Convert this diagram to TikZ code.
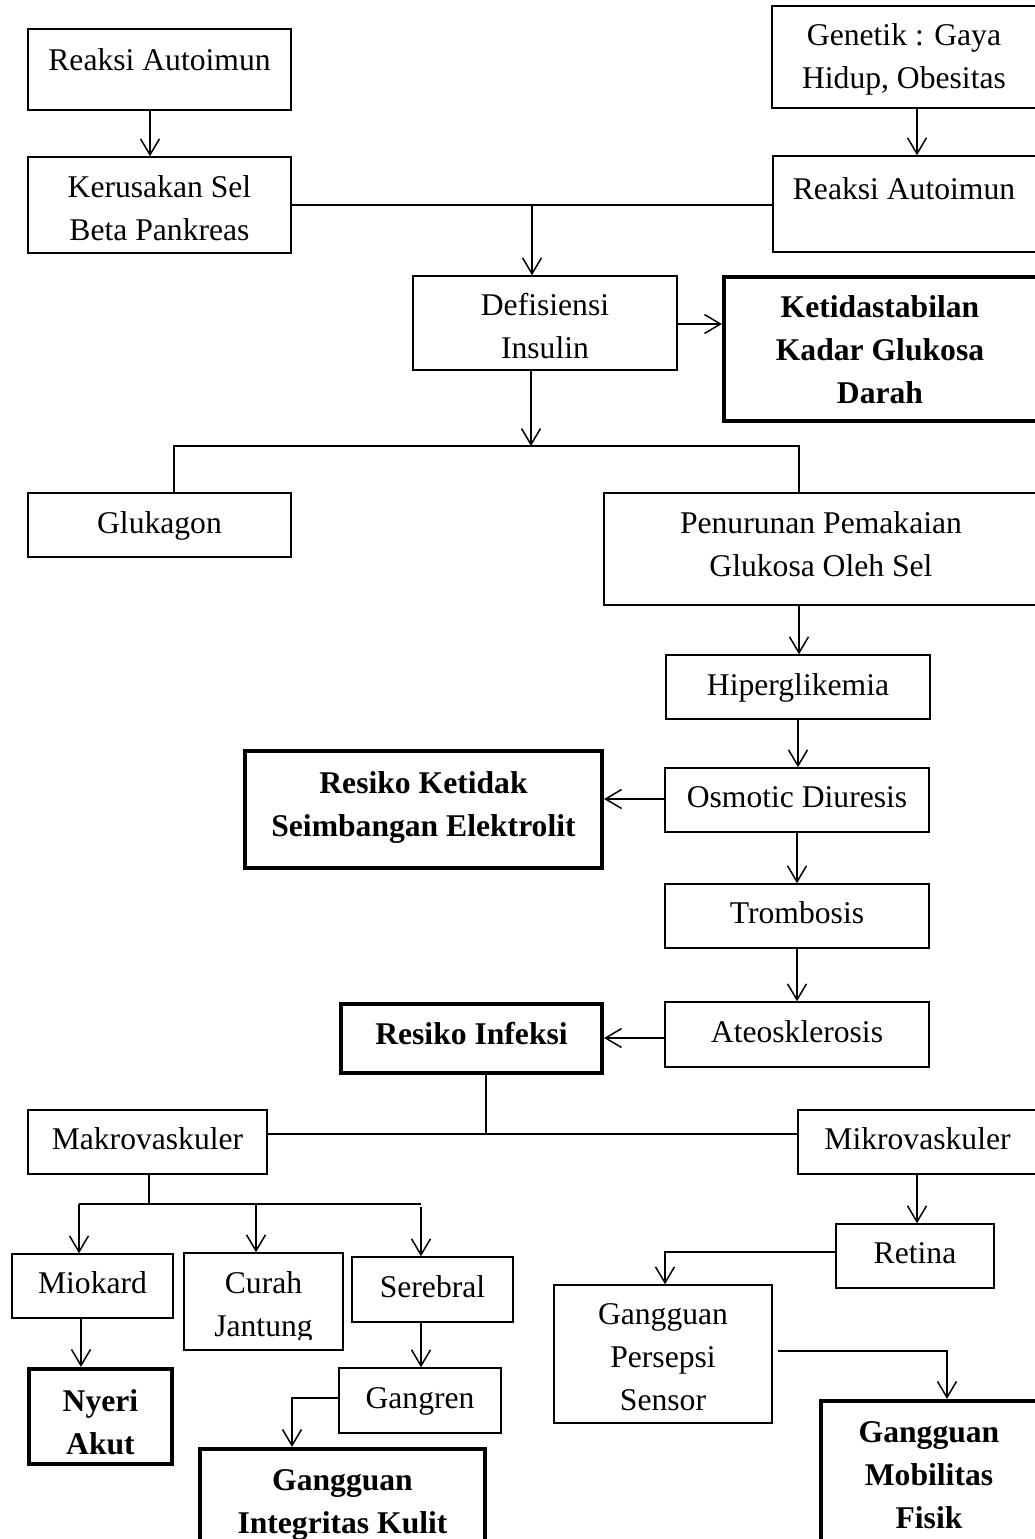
\documentclass[tikz,border=0pt]{standalone}
\usepackage{fontspec}
\setmainfont{Liberation Serif}
\usetikzlibrary{arrows.meta,fit}
\begin{document}
\begin{tikzpicture}[x=0.02cm,y=-0.02cm,
  box/.style={draw, line width=0.85pt, inner sep=0pt},
  tbox/.style={draw, line width=2.4pt, inner sep=0pt},
  txt/.style={inner sep=0pt, align=center, font=\fontsize{18}{24.4}\selectfont},
  txtb/.style={inner sep=0pt, align=center, font=\fontsize{18}{24.4}\selectfont\bfseries},
  ln/.style={line width=0.85pt},
  arr/.style={ln, -{Straight Barb[length=0.32cm,width=0.38cm]}}]
\useasboundingbox (0,0) rectangle (1035,1539);
\clip (0,0) rectangle (1035,1539);

% ---------- boxes ----------
\node[box, fit={(28,29)(291,110)}] (ra1) {};
\node[txt] (ra1t) at (159.5,62) {\strut Reaksi Autoimun};
\node[box, fit={(28,157)(291,253)}] (ks) {};
\node[txt] (kst) at (159.5,210) {\strut Kerusakan Sel\\ Beta Pankreas\strut};
\node[box, fit={(772,6)(1036,108)}] (gen) {};
\node[txt] (gent) at (904,58) {\strut Genetik : Gaya\\ Hidup, Obesitas\strut};
\node[box, fit={(773,156)(1036,252)}] (ra2) {};
\node[txt] (ra2t) at (904,191) {\strut Reaksi Autoimun};
\node[box, fit={(413,276)(677,370)}] (def) {};
\node[txt] (deft) at (545,328) {\strut Defisiensi\\ Insulin\strut};
\node[tbox, fit={(724,277)(1040,421)}] (ket) {};
\node[txtb] (kett) at (880,352) {\strut Ketidastabilan\\ Kadar Glukosa\\ Darah\strut};
\node[box, fit={(28,493)(291,557)}] (glu) {};
\node[txt] (glut) at (159.5,525) {\strut Glukagon};
\node[box, fit={(604,493)(1040,605)}] (pen) {};
\node[txt] (pent) at (821,546) {\strut Penurunan Pemakaian\\ Glukosa Oleh Sel\strut};
\node[box, fit={(666,655)(930,719)}] (hip) {};
\node[txt] (hipt) at (798,687) {\strut Hiperglikemia};
\node[box, fit={(665,768)(929,832)}] (osm) {};
\node[txt] (osmt) at (797,799) {\strut Osmotic Diuresis};
\node[tbox, fit={(245,751)(602,868)}] (rke) {};
\node[txtb] (rket) at (423.5,806) {\strut Resiko Ketidak\\ Seimbangan Elektrolit\strut};
\node[box, fit={(665,884)(929,948)}] (tro) {};
\node[txt] (trot) at (797,915) {\strut Trombosis};
\node[box, fit={(665,1002)(929,1067)}] (ate) {};
\node[txt] (atet) at (797,1034) {\strut Ateosklerosis};
\node[tbox, fit={(341,1004)(602,1073)}] (rin) {};
\node[txtb] (rint) at (471.5,1036) {\strut Resiko Infeksi};
\node[box, fit={(28,1110)(267,1174)}] (mak) {};
\node[txt] (makt) at (147.5,1141) {\strut Makrovaskuler};
\node[box, fit={(798,1110)(1037,1174)}] (mik) {};
\node[txt] (mikt) at (917.5,1141) {\strut Mikrovaskuler};
\node[box, fit={(12,1254)(173,1318)}] (mio) {};
\node[txt] (miot) at (92.5,1285) {\strut Miokard};
\node[box, fit={(184,1253)(343,1350)}] (cur) {};
\begin{scope}
  \clip (184,1250) rectangle (343,1339);
  \node[txt] (curt) at (263.5,1306) {\strut Curah\\ Jantung\strut};
\end{scope}
\node[box, fit={(352,1257)(513,1322)}] (ser) {};
\node[txt] (sert) at (432.5,1289) {\strut Serebral};
\node[box, fit={(339,1368)(501,1433)}] (gan) {};
\node[txt] (gant) at (420,1400) {\strut Gangren};
\node[tbox, fit={(29,1369)(172,1464)}] (nye) {};
\node[txtb] (nyet) at (100.5,1424) {\strut Nyeri\\ Akut\strut};
\node[tbox, fit={(200,1449)(485,1580)}] (int) {};
\node[txtb] (intt) at (342.5,1503) {\strut Gangguan\\ Integritas Kulit\strut};
\node[box, fit={(836,1224)(994,1288)}] (ret) {};
\node[txt] (rett) at (915,1255) {\strut Retina};
\node[box, fit={(554,1285)(772,1423)}] (per) {};
\node[txt] (pert) at (663,1359) {\strut Gangguan\\ Persepsi\\ Sensor\strut};
\node[tbox, fit={(821,1401)(1040,1580)}] (mob) {};
\node[txtb] (mobt) at (929,1477) {\strut Gangguan\\ Mobilitas\\ Fisik\strut};

% ---------- connectors ----------
\draw[arr] (150,0 |- ra1.south) -- (150,0 |- ks.north);
\draw[arr] (917,0 |- gen.south) -- (917,0 |- ra2.north);
\coordinate (j1) at (532,205);
\draw[ln] (ks.east |- j1) -- (ra2.west |- j1);
\draw[arr] (j1) -- (j1 |- def.north);
\draw[arr] (def.east |- 0,324) -- (ket.west |- 0,324);
\coordinate (j2) at (531,446);
\coordinate (bl) at (174,446);
\coordinate (br) at (799,446);
\draw[arr] (j2 |- def.south) -- (j2);
\draw[ln] (bl |- glu.north) -- (bl) -- (br) -- (br |- pen.north);
\draw[arr] (br |- pen.south) -- (br |- hip.north);
\draw[arr] (798,0 |- hip.south) -- (798,0 |- osm.north);
\draw[arr] (osm.west |- 0,799) -- (rke.east |- 0,799);
\draw[arr] (797,0 |- osm.south) -- (797,0 |- tro.north);
\draw[arr] (797,0 |- tro.south) -- (797,0 |- ate.north);
\draw[arr] (ate.west |- 0,1038) -- (rin.east |- 0,1038);
\coordinate (j3) at (486,1134);
\draw[ln] (j3 |- rin.south) -- (j3);
\draw[ln] (mak.east |- j3) -- (mik.west |- j3);
\coordinate (j4) at (149,1204);
\coordinate (h1) at (79,1204);
\coordinate (h2) at (256,1204);
\coordinate (h3) at (421,1204);
\draw[ln] (j4 |- mak.south) -- (j4);
\draw[ln] (h1) -- (h3);
\draw[arr] (h1) -- (h1 |- mio.north);
\draw[arr] (h2) -- (h2 |- cur.north);
\draw[arr] ([yshift=-0.06cm]h3) -- (h3 |- ser.north);
\draw[arr] (81,0 |- mio.south) -- (81,0 |- nye.north);
\draw[arr] (421,0 |- ser.south) -- (421,0 |- gan.north);
\coordinate (g1) at (292,1398);
\draw[arr] (gan.west |- g1) -- (g1) -- (g1 |- int.north);
\draw[arr] (917,0 |- mik.south) -- (917,0 |- ret.north);
\coordinate (r1) at (665,1252);
\draw[arr] (ret.west |- r1) -- (r1) -- (r1 |- per.north);
\coordinate (p1) at (947,1351);
\draw[arr] ([xshift=0.1cm]per.east |- p1) -- (p1) -- (p1 |- mob.north);
\end{tikzpicture}
\end{document}
